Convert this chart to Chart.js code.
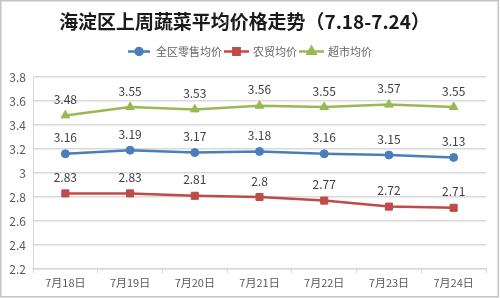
<!DOCTYPE html>
<html>
<head>
<meta charset="utf-8">
<script src="https://cdn.jsdelivr.net/npm/chart.js@4/dist/chart.umd.min.js"></script>
<style>
  html, body { margin: 0; padding: 0; background: #fff; }
  #wrap { width: 500px; height: 298px; position: relative; }
</style>
</head>
<body>
<div id="wrap"><canvas id="c" width="500" height="298"></canvas></div>
<script>
const titleText = '海淀区上周蔬菜平均价格走势（7.18-7.24）';
const categories = ['7月18日', '7月19日', '7月20日', '7月21日', '7月22日', '7月23日', '7月24日'];
const seriesNames = ['全区零售均价', '农贸均价', '超市均价'];
const retailAvg = [3.16, 3.19, 3.17, 3.18, 3.16, 3.15, 3.13];
const marketAvg = [2.83, 2.83, 2.81, 2.8, 2.77, 2.72, 2.71];
const superAvg = [3.48, 3.55, 3.53, 3.56, 3.55, 3.57, 3.55];
const yMin = 2.2, yMax = 3.8, yStep = 0.2;

const colors = ['#4a7ebb', '#be4b48', '#98b954'];
const styles = ['circle', 'rect', 'triangle'];
const radii = [4, 5, 5];
const FONT = '"Noto Sans CJK SC", "Noto Sans", sans-serif';

const extras = {
  id: 'extras',
  afterDatasetsDraw(chart) {
    const ctx = chart.ctx;
    ctx.save();
    ctx.font = '12px ' + FONT;
    ctx.fillStyle = '#404040';
    ctx.textAlign = 'center';
    ctx.textBaseline = 'middle';
    chart.data.datasets.forEach((ds, i) => {
      const meta = chart.getDatasetMeta(i);
      meta.data.forEach((pt, j) => {
        ctx.fillText(String(ds.data[j]), pt.x, pt.y - 16);
      });
    });
    ctx.restore();
  },
  afterDraw(chart) {
    const ctx = chart.ctx;
    ctx.save();
    ctx.strokeStyle = '#c4c4c4';
    ctx.lineWidth = 1.5;
    ctx.strokeRect(0.75, 0.75, 497.5, 296);
    // title, sized to the reference width
    ctx.fillStyle = '#1a1a1a';
    let fs = 19;
    ctx.font = 'bold ' + fs + 'px ' + FONT;
    const w = ctx.measureText(titleText).width;
    fs = Math.min(20, fs * 371 / w);
    ctx.font = 'bold ' + fs.toFixed(2) + 'px ' + FONT;
    ctx.textAlign = 'center';
    ctx.textBaseline = 'middle';
    ctx.fillText(titleText, 244.5, 22);
    // legend
    const items = [
      { x0: 128, x1: 150, tx: 156 },
      { x0: 224, x1: 249, tx: 253 },
      { x0: 299, x1: 324, tx: 328 }
    ];
    const ly = 51.5;
    ctx.font = '11px ' + FONT;
    ctx.textAlign = 'left';
    items.forEach((it, i) => {
      ctx.strokeStyle = colors[i];
      ctx.lineWidth = 2.5;
      ctx.beginPath();
      ctx.moveTo(it.x0, ly);
      ctx.lineTo(it.x1, ly);
      ctx.stroke();
      ctx.fillStyle = colors[i];
      Chart.helpers.drawPoint(ctx, { pointStyle: styles[i], radius: radii[i] - 0.5, borderWidth: 1 }, (it.x0 + it.x1) / 2, ly);
      ctx.fillStyle = '#666666';
      ctx.fillText(seriesNames[i], it.tx, ly);
    });
    ctx.restore();
  }
};

const datasets = [retailAvg, marketAvg, superAvg].map((d, i) => ({
  label: seriesNames[i],
  data: d,
  borderColor: colors[i],
  backgroundColor: colors[i],
  borderWidth: 2.5,
  pointStyle: styles[i],
  pointRadius: radii[i],
  pointBorderWidth: 1,
  pointBorderColor: colors[i],
  pointBackgroundColor: colors[i],
  tension: 0
}));

new Chart(document.getElementById('c'), {
  type: 'line',
  data: { labels: categories, datasets: datasets },
  options: {
    responsive: false,
    animation: false,
    devicePixelRatio: 1,
    layout: { padding: { top: 77, right: 14, bottom: 0, left: 0 } },
    plugins: {
      legend: { display: false },
      title: { display: false },
      tooltip: { enabled: false }
    },
    scales: {
      x: {
        offset: true,
        grid: { display: true, drawOnChartArea: false, drawTicks: true, tickLength: 4, offset: true, color: '#d9d9d9', lineWidth: 1 },
        border: { display: true, color: '#d9d9d9', width: 1.5 },
        ticks: { color: '#595959', font: { size: 11, family: FONT }, padding: 3, maxRotation: 0, autoSkip: false },
        afterFit(s) { s.height = 29; }
      },
      y: {
        min: yMin, max: yMax,
        ticks: {
          stepSize: yStep,
          color: '#595959',
          font: { size: 12, family: FONT },
          padding: 7,
          callback: v => String(parseFloat(Number(v).toFixed(1)))
        },
        grid: { color: '#d9d9d9', lineWidth: 1.5, drawTicks: false, tickLength: 0 },
        border: { display: true, color: '#d9d9d9', width: 1 },
        afterFit(s) { s.width = 33; }
      }
    }
  },
  plugins: [extras]
});
</script>
</body>
</html>
